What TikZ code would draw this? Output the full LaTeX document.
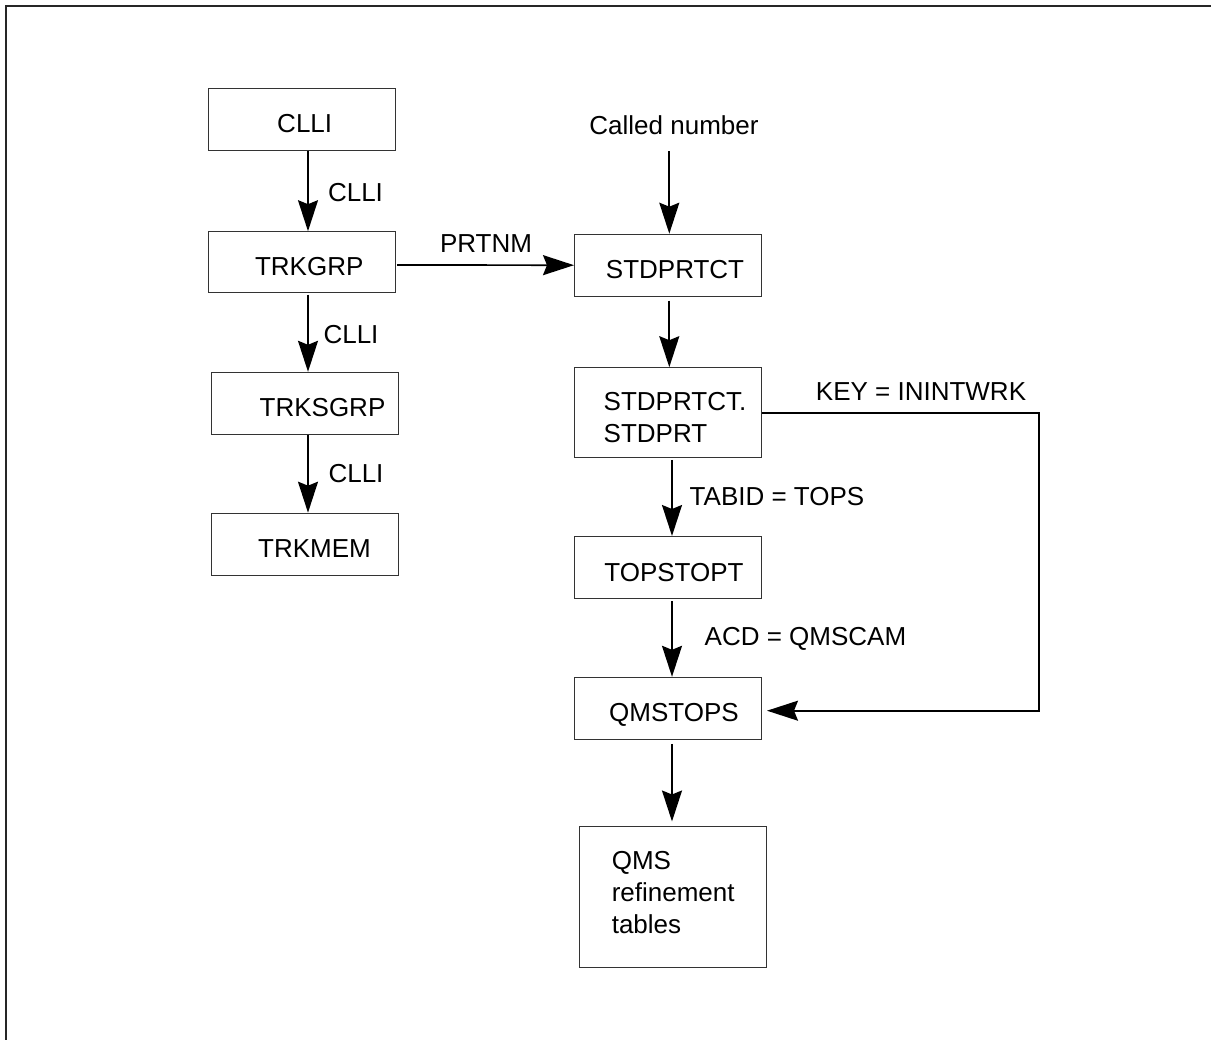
\documentclass[tikz,border=0pt]{standalone}
\usepackage{fontspec}
\setmainfont{Liberation Sans}
\usetikzlibrary{arrows.meta,calc}
\begin{document}
\begin{tikzpicture}[x=1pt,y=-1pt,
  every node/.style={font=\fontsize{26}{32}\selectfont},
  tbox/.style={draw=black!80,line width=1pt,minimum width=187pt,minimum height=62pt,inner sep=0pt,align=left},
  onebox/.style={tbox,text height=27pt,text depth=0pt},
  lbl/.style={inner sep=0pt,anchor=center},
  arr/.style={line width=1.7pt,-{Stealth[length=31pt,width=20pt,inset=4pt]}}
]
\useasboundingbox (0,0) rectangle (1211,1040);
\draw[line width=2pt,black!85] (6,1040) -- (6,6) -- (1211,6);

% left column
\node[onebox] (clli) at (301.7,119.2) {\hspace*{6pt}CLLI};
\node[onebox,minimum height=61pt] (trkgrp) at (301.7,262.2) {\hspace*{15pt}TRKGRP};
\node[onebox] (trksgrp) at (304.5,403.3) {\hspace*{36pt}TRKSGRP};
\node[onebox] (trkmem) at (304.5,544.2) {\hspace*{20pt}TRKMEM};

% right column
\node[lbl] (called) at (674,125.7) {Called number};
\node[onebox] (stdprtct) at (668,265.2) {\hspace*{14pt}STDPRTCT};
\node[tbox,minimum height=89.6pt] (stdprt) at (668,412.5) {\hspace*{14pt}\rule{0pt}{29pt}STDPRTCT.\\\hspace*{14pt}STDPRT};
\node[onebox] (topstopt) at (668,567.5) {\hspace*{12pt}TOPSTOPT};
\node[onebox] (qmstops) at (668,708.3) {\hspace*{12pt}QMSTOPS};
\node[tbox,minimum height=141pt] (qms) at (673.2,896.5) {QMS\\refinement\\tables\rule[-8pt]{0pt}{0pt}};

% edge labels
\node[lbl] (l1) at (355.5,192.7) {CLLI};
\node[lbl] (l2) at (351,335) {CLLI};
\node[lbl] (l3) at (356,473.3) {CLLI};
\node[lbl] (l4) at (486,244) {PRTNM};
\node[lbl] (l5) at (921,391.7) {KEY = ININTWRK};
\node[lbl] (l6) at (777,496.7) {TABID = TOPS};
\node[lbl] (l7) at (805.5,639.3) {ACD = QMSCAM};

\coordinate (corner) at (1039,413.3);

% connectors
\draw[arr] ([xshift=6.3pt]clli.south) -- ([xshift=6.3pt]trkgrp.north);
\draw[arr,shorten <=1.5pt] ([xshift=6.3pt]trkgrp.south) -- ([xshift=3.5pt]trksgrp.north);
\draw[arr] ([xshift=3.5pt]trksgrp.south) -- ([xshift=3.5pt]trkmem.north);
\draw[arr,shorten <=1.5pt] ([yshift=-2.8pt]trkgrp.east) -- (stdprtct.west);
\draw[arr] ([yshift=-16pt]called.south -| stdprtct.north) ++(1.3pt,0) -- ([xshift=1.3pt]stdprtct.north);
\draw[arr,shorten <=4pt] ([xshift=1.3pt]stdprtct.south) -- ([xshift=1.3pt]stdprt.north);
\draw[arr,shorten <=2pt] ([xshift=4pt]stdprt.south) -- ([xshift=4pt]topstopt.north);
\draw[arr,shorten <=2pt] ([xshift=4pt]topstopt.south) -- ([xshift=4pt]qmstops.north);
\draw[arr,shorten <=4pt,shorten >=4pt] ([xshift=4pt]qmstops.south) -- ([xshift=-1.2pt]qms.north);
\draw[arr,shorten >=5pt] ([yshift=-0.8pt]stdprt.east) -- (corner) |- ([yshift=-2.4pt]qmstops.east);
\end{tikzpicture}
\end{document}
